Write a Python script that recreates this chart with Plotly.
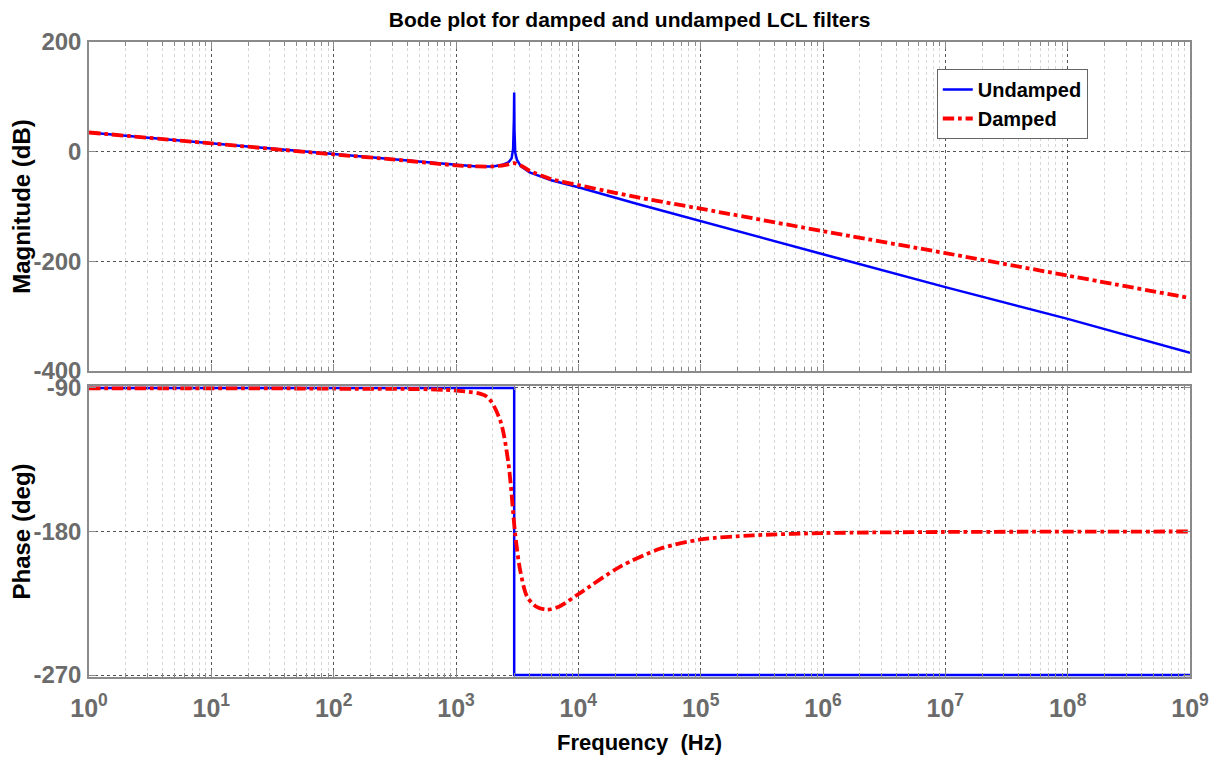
import plotly.graph_objects as go

# ---- data ----
freq_mag_u = [1, 10, 100, 300, 1000, 1500, 2000, 2400, 2700, 2850, 2930, 2975, 2990, 3005, 3050, 3150, 3400, 4000, 6000, 1e4, 3e4, 1e5, 1e6, 1e7, 1e8, 1e9]
mag_u = [35, 15, -5, -14, -24, -27, -27, -24, -19, -12, 5, 60, 108, 40, -2, -15, -27, -38, -52, -65, -95, -127, -187, -247, -305, -367]

freq_mag_d = [1, 10, 100, 300, 1000, 1500, 2000, 2500, 2990, 3500, 4000, 6000, 1e4, 2e4, 3e4, 1e5, 1e6, 1e7, 1e8, 1e9]
mag_d = [35, 15, -5, -14, -25, -27, -27, -24.5, -21, -27, -35, -50, -61, -75, -83, -104, -145, -185, -226, -267]

freq_ph_u = [1, 2990, 2990, 1e9]
ph_u = [-90, -90, -270, -270]

freq_ph_d = [1, 100, 1000, 1780, 2290, 2680, 3040, 3340, 3800, 4500, 5500, 7000, 1.03e4, 2.2e4, 4.7e4, 1e5, 2.7e5, 1e6, 1e7, 1e8, 1e9]
ph_d = [-90.3, -90.5, -91.7, -95.4, -110, -137, -181, -204, -220.6, -227, -229, -227, -218.6, -202, -190.7, -185, -182.4, -181, -180.3, -180.1, -180]

x_tickvals = [10 ** k for k in range(10)]
x_ticktext = [f"10<sup>{k}</sup>" for k in range(10)]
x_minor = [m * 10 ** k for k in range(9) for m in range(2, 10)]
mag_ticks = [-400, -200, 0, 200]
ph_ticks = [-270, -180, -90]

FONT = "Arial, Liberation Sans, sans-serif"
TICKC = "#6b6b6b"
FRAME = "#8a8a8a"

fig = go.Figure()
fig.add_trace(go.Scatter(x=freq_mag_u, y=mag_u, mode="lines", name="Undamped",
                         line=dict(color="#0000ff", width=2.5), xaxis="x", yaxis="y"))
fig.add_trace(go.Scatter(x=freq_mag_d, y=mag_d, mode="lines", name="Damped",
                         line=dict(color="#ff0000", width=3.8, dash="dashdot", shape="spline", smoothing=0.6),
                         xaxis="x", yaxis="y"))
fig.add_trace(go.Scatter(x=freq_ph_u, y=ph_u, mode="lines", showlegend=False,
                         line=dict(color="#0000ff", width=2.5), xaxis="x2", yaxis="y2"))
fig.add_trace(go.Scatter(x=freq_ph_d, y=ph_d, mode="lines", showlegend=False,
                         line=dict(color="#ff0000", width=3.8, dash="dashdot", shape="spline", smoothing=0.8),
                         xaxis="x2", yaxis="y2"))

def xaxis_common(show_labels, anchor):
    return dict(
        type="log", range=[0, 9], anchor=anchor, automargin=False,
        tickmode="array", tickvals=x_tickvals, ticktext=x_ticktext,
        showticklabels=show_labels,
        tickfont=dict(family=FONT, size=25, color=TICKC, weight="bold"),
        ticks="inside", ticklen=7, tickcolor=FRAME,
        showline=True, linecolor=FRAME, linewidth=1.5, mirror="ticks",
        showgrid=True, gridcolor="#555555", griddash="dot", gridwidth=1,
        minor=dict(tickmode="array", tickvals=x_minor, ticks="inside", ticklen=4,
                   tickcolor=FRAME, showgrid=True, gridcolor="#d6d6d6", griddash="dot", gridwidth=1),
        zeroline=False, ticklabelstandoff=8,
    )

def yaxis_common(rng, ticks, domain, anchor, title):
    return dict(
        range=rng, domain=domain, anchor=anchor, automargin=False,
        tickmode="array", tickvals=ticks, ticktext=[str(t) for t in ticks],
        tickfont=dict(family=FONT, size=24, color=TICKC, weight="bold"),
        ticks="inside", ticklen=7, tickcolor=FRAME,
        showline=True, linecolor=FRAME, linewidth=1.5, mirror="ticks",
        showgrid=True, gridcolor="#555555", griddash="dot", gridwidth=1,
        zeroline=False, ticklabelstandoff=1,
        title=dict(text=title, font=dict(family=FONT, size=24, color="black", weight="bold"), standoff=0),
    )

# page body has an 8px margin, so the figure is 16px smaller than the window
fig.update_layout(
    width=1210, height=747,
    margin=dict(l=81, r=28, t=34, b=78),
    paper_bgcolor="white", plot_bgcolor="white",
    xaxis=xaxis_common(False, "y"),
    xaxis2=dict(xaxis_common(True, "y2"), matches="x",
                title=dict(text="Frequency  (Hz)", font=dict(family=FONT, size=22, color="black", weight="bold"), standoff=16)),
    yaxis=yaxis_common([-400, 200], mag_ticks, [0.4819, 1.0], "x", "Magnitude (dB)"),
    yaxis2=yaxis_common([-271.2, -88.8], ph_ticks, [0.0, 0.4583], "x2", "Phase (deg)"),
    title=dict(text="Bode plot for damped and undamped LCL filters", x=0.491, xref="paper",
               y=1 - 12 / 747, yref="container", yanchor="middle", xanchor="center",
               font=dict(family=FONT, size=21, color="black", weight="bold")),
    legend=dict(x=0.770, y=0.9575, xanchor="left", yanchor="top", bgcolor="white",
                bordercolor="#666666", borderwidth=1,
                font=dict(family=FONT, size=20, color="black", weight="bold")),
    showlegend=True,
)

fig.write_html("out.html")
